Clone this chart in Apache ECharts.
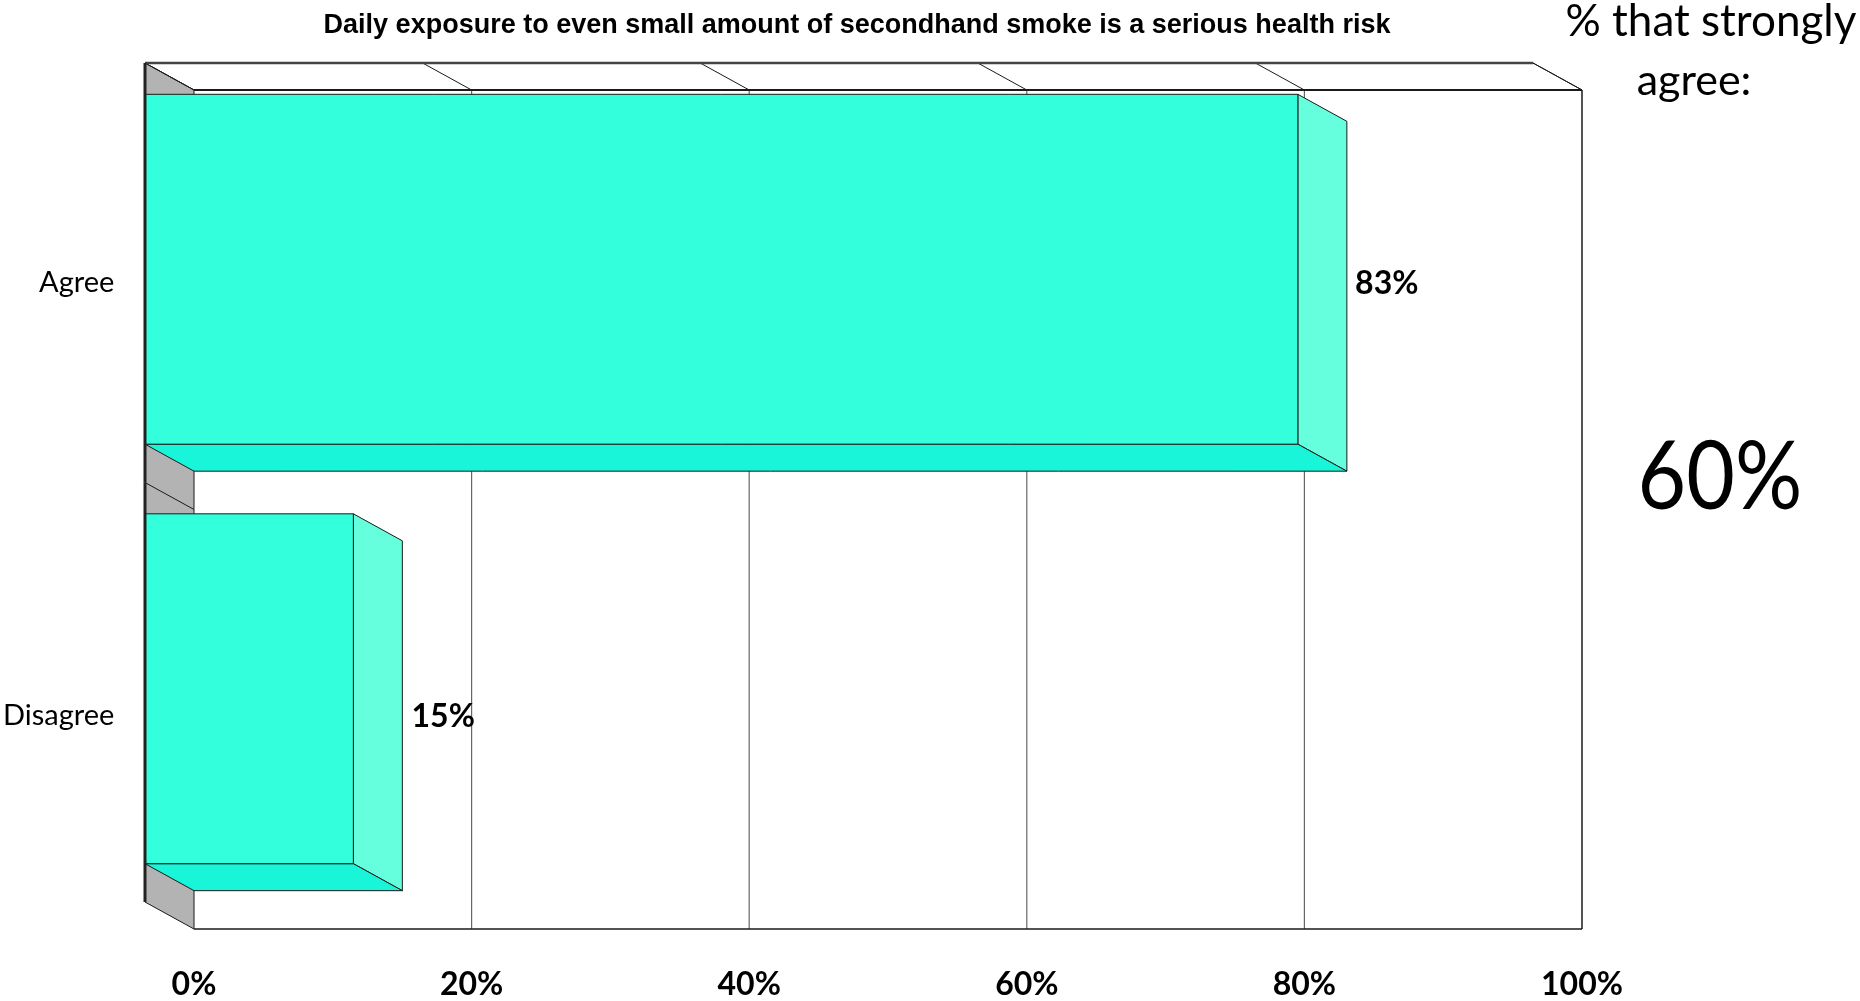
<!DOCTYPE html>
<html>
<head>
<meta charset="utf-8">
<script src="https://cdn.jsdelivr.net/npm/echarts@6/dist/echarts.min.js"></script>
<style>
html,body{margin:0;padding:0;background:#fff;}
#chart{width:1860px;height:1001px;}
</style>
</head>
<body>
<div id="chart"></div>
<script>
// ---- data ----
const chartTitle = 'Daily exposure to even small amount of secondhand smoke is a serious health risk';
const categories = ['Agree', 'Disagree'];
const values = [83, 15];
const xTicks = [0, 20, 40, 60, 80, 100];
const sideNoteLines = ['% that strongly', 'agree:'];
const strongAgree = '60%';

// ---- style constants ----
const FONT = 'Lato, "Liberation Sans", sans-serif';
const TITLE_FONT = '"Liberation Sans", Arial, sans-serif';
const DX = 49, DY = 27;               // 3D depth offset (front -> back)
const C_FRONT = '#33FFDD', C_SIDE = '#66FFDD', C_BOTTOM = '#19F5D9';
const C_WALL = '#B3B3B3', EDGE = '#1a1a1a';

const chart = echarts.init(document.getElementById('chart'));

const barData = values.map((v, i) => [v, i]);
const wallData = xTicks.map(t => [t, 0]);

function renderBar(params, api) {
  const v = api.value(0), c = api.value(1);
  const p0 = api.coord([0, c]);
  const p1 = api.coord([v, c]);
  const band = api.size([0, 1])[1];
  const h = band * 0.834;
  const cy = p0[1] - 3.5;
  const x0 = p0[0], x1 = p1[0], y0 = cy - h / 2, y1 = cy + h / 2;
  const bandTop = p0[1] - band / 2, bandBot = p0[1] + band / 2;
  const ls = { stroke: EDGE, lineWidth: 1 };
  const children = [
    { type: 'polygon', z2: 1, shape: { points: [[x1, y0], [x1 + DX, y0 + DY], [x1 + DX, y1 + DY], [x1, y1]] }, style: Object.assign({ fill: C_SIDE }, ls) },
    { type: 'polygon', z2: 1, shape: { points: [[x0, y1], [x1, y1], [x1 + DX, y1 + DY], [x0 + DX, y1 + DY]] }, style: Object.assign({ fill: C_BOTTOM }, ls) },
    { type: 'rect', z2: 2, shape: { x: x0, y: y0, width: x1 - x0, height: y1 - y0 }, style: Object.assign({ fill: C_FRONT }, ls) },
    { type: 'line', z2: 10, shape: { x1: x0, y1: bandTop, x2: x0, y2: bandBot }, style: { stroke: '#222', lineWidth: 3 } }
  ];
  if (params.dataIndex > 0) {
    children.unshift({ type: 'line', z2: 0, shape: { x1: x0, y1: bandTop, x2: x0 + DX, y2: bandTop + DY }, style: { stroke: EDGE, lineWidth: 1 } });
  }
  return { type: 'group', children };
}

function renderWall(params, api) {
  const t = api.value(0);
  const top = api.coord([t, 1]);
  const bot = api.coord([t, 0]);
  const L = api.coord([0, 1]);
  const LB = api.coord([0, 0]);
  const R = api.coord([100, 1]);
  const RB = api.coord([100, 0]);
  const children = [];
  if (params.dataIndex === 0) {
    children.push({ type: 'polygon', z2: 0, shape: { points: [[L[0] - DX, L[1] - DY], [R[0] - DX, R[1] - DY], R, L] }, style: { fill: '#fff', stroke: EDGE, lineWidth: 1 } });
    children.push({ type: 'polygon', z2: 0, shape: { points: [[L[0] - DX, L[1] - DY], L, LB, [LB[0] - DX, LB[1] - DY]] }, style: { fill: C_WALL, stroke: EDGE, lineWidth: 1 } });
    children.push({ type: 'line', z2: 2, shape: { x1: LB[0], y1: LB[1], x2: RB[0], y2: RB[1] }, style: { stroke: EDGE, lineWidth: 1.5 } });
    children.push({ type: 'line', z2: 2, shape: { x1: R[0], y1: R[1], x2: RB[0], y2: RB[1] }, style: { stroke: EDGE, lineWidth: 1.5 } });
    children.push({ type: 'line', z2: 2, shape: { x1: L[0], y1: L[1], x2: R[0], y2: R[1] }, style: { stroke: EDGE, lineWidth: 2 } });
    children.push({ type: 'line', z2: 2, shape: { x1: L[0] - DX, y1: L[1] - DY, x2: R[0] - DX, y2: R[1] - DY }, style: { stroke: '#444', lineWidth: 2.5 } });
  }
  if (t > 0 && t < 100) {
    children.push({ type: 'line', z2: 1, shape: { x1: top[0], y1: top[1], x2: bot[0], y2: bot[1] }, style: { stroke: '#666', lineWidth: 1.2 } });
  }
  children.push({ type: 'line', z2: 1, shape: { x1: top[0] - DX, y1: top[1] - DY, x2: top[0], y2: top[1] }, style: { stroke: EDGE, lineWidth: 1 } });
  return { type: 'group', children };
}

function renderValueLabel(params, api) {
  const v = api.value(0), c = api.value(1);
  const p = api.coord([v, c]);
  return {
    type: 'text',
    style: {
      x: p[0] + DX + 8, y: p[1] + 1,
      text: v + '%',
      align: 'left', verticalAlign: 'middle',
      font: 'bold 32px ' + FONT, fill: '#000'
    }
  };
}

const option = {
  animation: false,
  backgroundColor: '#fff',
  title: {
    text: chartTitle,
    left: 857, top: 12, textAlign: 'center', padding: 0,
    textStyle: { fontFamily: TITLE_FONT, fontWeight: 'bold', fontSize: 27, color: '#000' }
  },
  grid: [
    { left: 145, top: 63, width: 1389, height: 839 },   // front plane (bars)
    { left: 145, top: 66, width: 1389, height: 866 },   // label plane
    { left: 194, top: 90, width: 1388, height: 839 }    // back plane (walls, x labels)
  ],
  xAxis: [
    { gridIndex: 0, type: 'value', min: 0, max: 100, show: false },
    { gridIndex: 1, type: 'value', min: 0, max: 100, show: false },
    {
      gridIndex: 2, type: 'value', min: 0, max: 100, interval: 20,
      axisLine: { show: false }, axisTick: { show: false }, splitLine: { show: false },
      axisLabel: {
        formatter: '{value}%', margin: 40,
        fontFamily: FONT, fontWeight: 'bold', fontSize: 32, color: '#000'
      }
    }
  ],
  yAxis: [
    { gridIndex: 0, type: 'category', data: categories, inverse: true, show: false },
    {
      gridIndex: 1, type: 'category', data: categories, inverse: true,
      axisLine: { show: false }, axisTick: { show: false }, splitLine: { show: false },
      axisLabel: { margin: 32, fontFamily: FONT, fontSize: 29, color: '#000' }
    },
    { gridIndex: 2, type: 'value', min: 0, max: 1, show: false }
  ],
  series: [
    { type: 'custom', name: 'walls', xAxisIndex: 2, yAxisIndex: 2, z: 1, data: wallData, renderItem: renderWall, silent: true },
    { type: 'custom', name: 'bars', xAxisIndex: 0, yAxisIndex: 0, z: 2, data: barData, renderItem: renderBar },
    { type: 'custom', name: 'labels', xAxisIndex: 1, yAxisIndex: 1, z: 3, data: barData.map(d => [d[0], d[1]]), renderItem: renderValueLabel, silent: true }
  ],
  graphic: [
    { type: 'text', x: 1711, y: 22, style: { text: sideNoteLines[0], align: 'center', verticalAlign: 'middle', font: '44px ' + FONT, fill: '#000' } },
    { type: 'text', x: 1694, y: 81, style: { text: sideNoteLines[1], align: 'center', verticalAlign: 'middle', font: '43px ' + FONT, fill: '#000' } },
    { type: 'text', x: 1720, y: 479, scaleY: 1.12, style: { text: strongAgree, align: 'center', verticalAlign: 'middle', font: '84px ' + FONT, fill: '#000' } }
  ]
};
chart.setOption(option);
</script>
</body>
</html>
